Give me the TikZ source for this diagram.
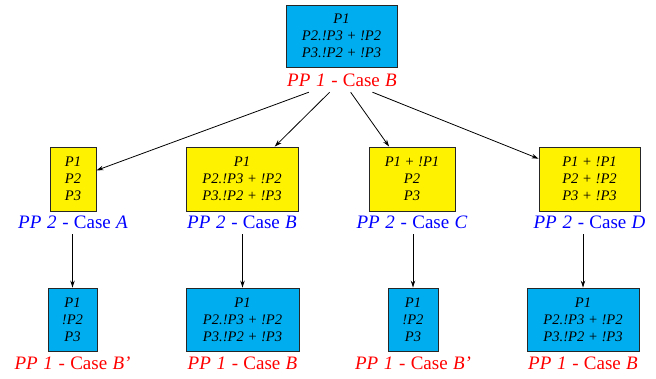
\documentclass[tikz,border=0pt]{standalone}
\usepackage{fontspec}
\setmainfont{Liberation Serif}
\usetikzlibrary{arrows.meta}
\definecolor{boxblue}{RGB}{0,174,239}
\definecolor{boxyellow}{RGB}{255,242,0}
\definecolor{lblred}{RGB}{255,0,0}
\definecolor{lblblue}{RGB}{0,0,255}
\tikzset{
  box/.style={draw=black!85, line width=0.9pt, align=center, inner sep=0pt,
    font=\fontsize{14.6}{17}\selectfont\itshape},
  bluebox/.style={box, fill=boxblue},
  yelbox/.style={box, fill=boxyellow},
  lbl/.style={inner sep=0pt, minimum height=24pt, font=\fontsize{19}{21}\selectfont},
  redlbl/.style={lbl, text=lblred},
  bluelbl/.style={lbl, text=lblblue},
  conn/.style={line width=0.8pt, -{Stealth[length=7pt,width=4.5pt]}},
}
\newcommand{\lab}[3]{\textit{PP}\hspace{0.3em}\textit{#1}\hspace{0.3em}-\hspace{0.28em}Case\hspace{0.28em}\textit{#2#3}}
\begin{document}
\begin{tikzpicture}[x=1pt,y=-1pt]
\useasboundingbox (0,0) rectangle (656,378);
% top
\node[bluebox, minimum width=111pt, minimum height=62pt] (t) at (341.5,36) {P1\\P2.!P3 + !P2\\P3.!P2 + !P3};
\node[redlbl] (tl) at (342,80) {\lab{1}{B}{}};
% row 2
\node[yelbox, minimum width=46pt, minimum height=64pt] (a) at (73,179) {P1\\P2\\P3};
\node[yelbox, minimum width=112pt, minimum height=64pt] (b) at (242,179) {P1\\P2.!P3 + !P2\\P3.!P2 + !P3};
\node[yelbox, minimum width=86pt, minimum height=64pt] (c) at (412,179) {P1 + !P1\\P2\\P3};
\node[yelbox, minimum width=101pt, minimum height=64pt] (d) at (589.5,179) {P1 + !P1\\P2 + !P2\\P3 + !P3};
\node[bluelbl] (al) at (73,222) {\lab{2}{A}{}};
\node[bluelbl] (bl) at (242,222) {\lab{2}{B}{}};
\node[bluelbl] (cl) at (412,222) {\lab{2}{C}{}};
\node[bluelbl] (dl) at (589.5,222) {\lab{2}{D}{}};
% row 3
\node[bluebox, minimum width=49pt, minimum height=63pt] (a3) at (72.5,319.5) {P1\\!P2\\P3};
\node[bluebox, minimum width=113pt, minimum height=63pt] (b3) at (242.5,319.5) {P1\\P2.!P3 + !P2\\P3.!P2 + !P3};
\node[bluebox, minimum width=50pt, minimum height=63pt] (c3) at (413,319.5) {P1\\!P2\\P3};
\node[bluebox, minimum width=112pt, minimum height=63pt] (d3) at (583,319.5) {P1\\P2.!P3 + !P2\\P3.!P2 + !P3};
\node[redlbl] (a3l) at (72.5,363) {\lab{1}{B}{'}};
\node[redlbl] (b3l) at (242.5,363) {\lab{1}{B}{}};
\node[redlbl] (c3l) at (413,363) {\lab{1}{B}{'}};
\node[redlbl] (d3l) at (583,363) {\lab{1}{B}{}};
% connectors
\draw[conn] (tl) -- (a);
\draw[conn] (tl) -- (b);
\draw[conn] (tl) -- (c);
\draw[conn] (tl) -- (d);
\draw[conn] (al.south -| a3.north) -- (a3);
\draw[conn] (bl.south -| b3.north) -- (b3);
\draw[conn] (cl.south -| c3.north) -- (c3);
\draw[conn] (dl.south -| d3.north) -- (d3);
\end{tikzpicture}
\end{document}
